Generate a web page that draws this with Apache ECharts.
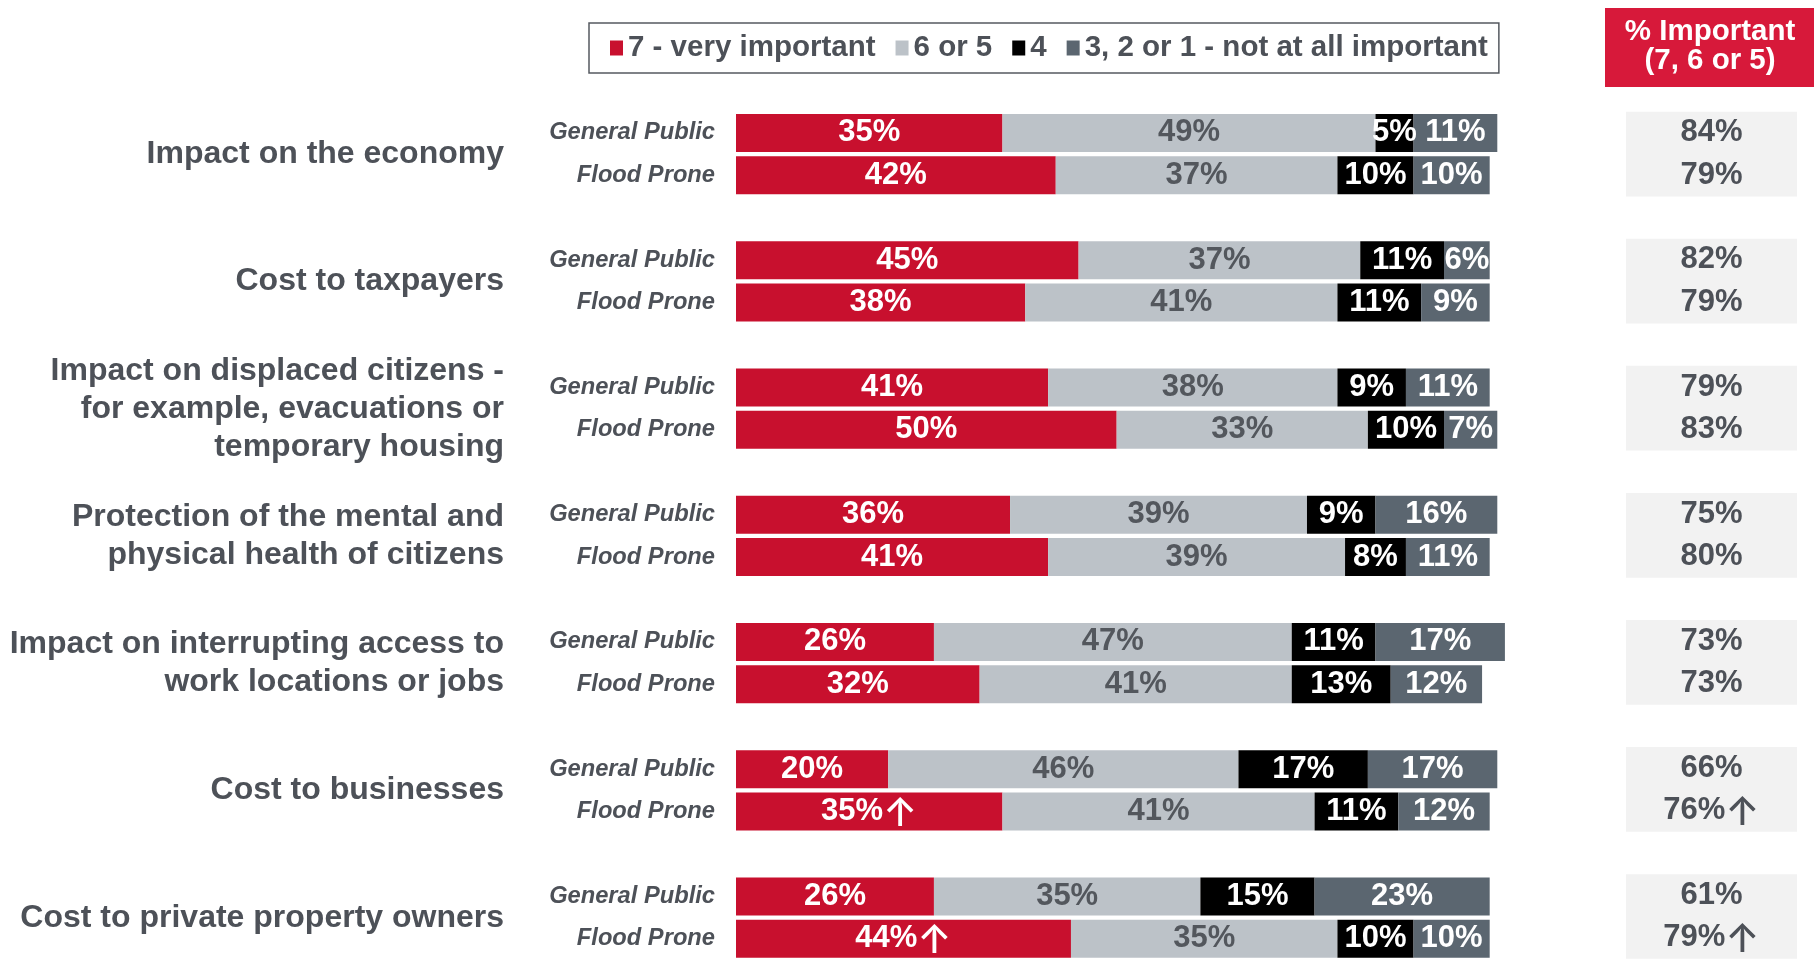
<!DOCTYPE html>
<html>
<head>
<meta charset="utf-8">
<script src="https://cdn.jsdelivr.net/npm/echarts@6/dist/echarts.min.js"></script>
<style>
html,body{margin:0;padding:0;background:#fff;}
#chart{width:1814px;height:960px;}
</style>
</head>
<body>
<div id="chart"></div>
<script>
// ---- data ----
const groups = [
  'Impact on the economy',
  'Cost to taxpayers',
  'Impact on displaced citizens -\nfor example, evacuations or\ntemporary housing',
  'Protection of the mental and\nphysical health of citizens',
  'Impact on interrupting access to\nwork locations or jobs',
  'Cost to businesses',
  'Cost to private property owners'
];
const subgroups = ['General Public', 'Flood Prone'];
const seriesNames = ['7 - very important', '6 or 5', '4', '3, 2 or 1 - not at all important'];
// rows: for each group, General Public then Flood Prone
const veryImportant = [35, 42, 45, 38, 41, 50, 36, 41, 26, 32, 20, 35, 26, 44];
const sixOrFive     = [49, 37, 37, 41, 38, 33, 39, 39, 47, 41, 46, 41, 35, 35];
const four          = [5, 10, 11, 11, 9, 10, 9, 8, 11, 13, 17, 11, 15, 10];
const threeToOne    = [11, 10, 6, 9, 11, 7, 16, 11, 17, 12, 17, 12, 23, 10];
const importantTotal = [84, 79, 82, 79, 79, 83, 75, 80, 73, 73, 66, 76, 61, 79];
const significantUp  = [0, 0, 0, 0, 0, 0, 0, 0, 0, 0, 0, 1, 0, 1];

// ---- build slots (GP, FP, gap per group) ----
const slotKeys = [], slotRow = [], slotGroup = [], slotSub = [];
groups.forEach((g, gi) => {
  for (let s = 0; s < 2; s++) {
    slotKeys.push('g' + gi + 's' + s); slotRow.push(gi * 2 + s); slotGroup.push(gi); slotSub.push(s);
  }
  if (gi < groups.length - 1) {
    slotKeys.push('g' + gi + 'gap'); slotRow.push(-1); slotGroup.push(gi); slotSub.push(-1);
  }
});
const toSlots = arr => slotRow.map(r => r < 0 ? '-' : arr[r]);

const FONT = '"Liberation Sans", Arial, sans-serif';
const colors = ['#c8102e', '#bcc2c8', '#000000', '#5b6670'];
const labelColors = ['#ffffff', '#53575d', '#ffffff', '#ffffff'];
const TEXT = '#4d5158';
const SLOT = 42.68;

const arrowRich = color => ({
  a: { fontFamily: 'Inter, "DejaVu Sans", sans-serif', fontSize: 40, fontWeight: 500, color: color, padding: [5, 0, 0, 0] }
});

const valueArrays = [veryImportant, sixOrFive, four, threeToOne];
const series = valueArrays.map((arr, k) => ({
  name: seriesNames[k],
  type: 'bar',
  stack: 'total',
  xAxisIndex: 0, yAxisIndex: 0,
  barWidth: 38,
  data: toSlots(arr),
  itemStyle: { color: colors[k] },
  label: {
    show: true,
    position: 'inside',
    color: labelColors[k],
    fontFamily: FONT,
    fontWeight: 'bold',
    fontSize: 31,
    rich: arrowRich(labelColors[k]),
    formatter: p => {
      const r = slotRow[p.dataIndex];
      return p.value + '%' + (k === 0 && significantUp[r] ? '{a|\u2191}' : '');
    }
  }
}));

const chart = echarts.init(document.getElementById('chart'));
chart.setOption({
  animation: false,
  color: colors,
  legend: {
    data: seriesNames,
    left: 589, top: 23,
    padding: [10, 11, 10, 21],
    borderColor: '#555a60', borderWidth: 1.5,
    itemWidth: 13, itemHeight: 15, itemGap: 20,
    icon: 'rect',
    textStyle: { fontFamily: FONT, fontSize: 29.5, fontWeight: 'bold', color: TEXT }
  },
  grid: [
    { left: 736, top: 111.7, width: 7.613 * 101, height: SLOT * slotKeys.length },
    { left: 1626, top: 111.7, width: 171, height: SLOT * slotKeys.length }
  ],
  xAxis: [
    { gridIndex: 0, type: 'value', min: 0, max: 101, show: false },
    { gridIndex: 1, type: 'value', min: 0, max: 1, show: false }
  ],
  yAxis: [
    {
      gridIndex: 0, type: 'category', data: slotKeys, inverse: true,
      axisLine: { show: false }, axisTick: { show: false },
      axisLabel: {
        interval: 0, margin: 21,
        formatter: (v, i) => slotSub[i] >= 0 ? subgroups[slotSub[i]] : '',
        fontFamily: FONT, fontSize: 23.7, fontWeight: 'bold', fontStyle: 'italic', color: TEXT
      }
    },
    {
      gridIndex: 0, type: 'category', data: slotKeys, inverse: true, position: 'left',
      axisLine: { show: false }, axisTick: { show: false },
      axisLabel: {
        interval: 0, margin: 232, align: 'right', verticalAlign: 'middle',
        rich: {
          sp: { fontSize: 1, lineHeight: SLOT },
          t: { fontFamily: FONT, fontSize: 32, fontWeight: 'bold', color: TEXT, lineHeight: 38, align: 'right' }
        },
        formatter: (v, i) => slotSub[i] === 0
          ? '{sp| }\n' + groups[slotGroup[i]].split('\n').map(l => '{t|' + l + '}').join('\n')
          : '',
        fontFamily: FONT, fontSize: 32, fontWeight: 'bold', color: TEXT
      }
    },
    {
      gridIndex: 1, type: 'category', data: slotKeys, inverse: true,
      axisLine: { show: false }, axisTick: { show: false, interval: 0 },
      splitArea: { show: true, interval: 0, areaStyle: { color: ['#f2f2f2', '#f2f2f2', 'rgba(255,255,255,0)'] } },
      axisLabel: {
        inside: true, interval: 0, margin: 85.5, align: 'center',
        rich: arrowRich(TEXT),
        formatter: (v, i) => slotRow[i] >= 0 ? importantTotal[slotRow[i]] + '%' + (significantUp[slotRow[i]] ? '{a|\u2191}' : '') : '',
        fontFamily: FONT, fontSize: 31, fontWeight: 'bold', color: TEXT
      }
    }
  ],
  graphic: [
    { type: 'rect', left: 1605, top: 8, shape: { width: 209, height: 79 }, style: { fill: '#d7193a' } },
    { type: 'text', x: 1710, y: 46, style: { text: '% Important\n(7, 6 or 5)', align: 'center', verticalAlign: 'middle', fill: '#fff', font: 'bold 29.5px ' + FONT, lineHeight: 29 } }
  ],
  series: series
});
</script>
</body>
</html>
